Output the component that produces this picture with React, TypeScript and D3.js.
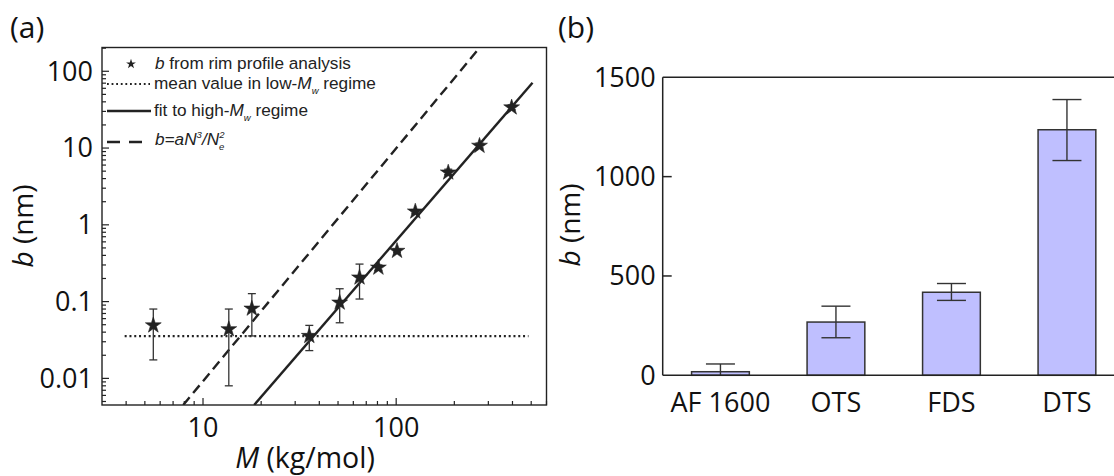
import React from 'react'
import * as d3 from 'd3'

// ---- panel (a): b vs M, log-log ----
const massM = [5.53, 13.6, 17.9, 35.5, 51, 64.6, 80.9, 101, 125.6, 186, 270, 396]
const rimB = [0.049, 0.0437, 0.081, 0.0357, 0.097, 0.206, 0.277, 0.458, 1.49, 4.8, 10.7, 33.8]
const rimLow = [0.0174, 0.008, 0.0357, 0.023, 0.053, 0.108, 0.255, 0.44, 1.42, 4.5, 10.0, 31.5]
const rimHigh = [0.08, 0.08, 0.127, 0.049, 0.147, 0.308, 0.3, 0.48, 1.58, 5.3, 11.6, 36.5]

const meanM = [3.93, 484]
const meanB = [0.0356, 0.0356]
const fitM = [18.4, 508]
const fitB = [0.0045, 70.8]
const theoryM = [7.9, 271]
const theoryB = [0.0045, 204]

const xMajor = [10, 100]
const yMajor = [0.01, 0.1, 1, 10, 100]
const yMajorLabels = ['0.01', '0.1', '1', '10', '100']

// ---- panel (b): bars ----
const surfaces = ['AF 1600', 'OTS', 'FDS', 'DTS']
const surfaceB = [18, 268, 418, 1236]
const surfaceLow = [-20, 189, 377, 1081]
const surfaceHigh = [57, 348, 462, 1388]
const barTicks = [0, 500, 1000, 1500]

const ink = '#222'
const sans = '"Open Sans", "Noto Sans", sans-serif'
const arial = '"Liberation Sans", Arial, sans-serif'

const isDecade = (t: number) => Math.abs(Math.log10(t) - Math.round(Math.log10(t))) < 1e-6

const App = () => {
  // panel (a) scales
  const x = d3.scaleLog().domain([3, 600]).range([102, 546.5])
  const y = d3.scaleLog().domain([0.0045, 204]).range([405, 47.5])
  const [x0, x1] = x.range()
  const [y0, y1] = y.range()

  const line = d3.line<[number, number]>().x(d => x(d[0])).y(d => y(d[1]))
  const pts = (ms: number[], bs: number[]) => ms.map((m, i) => [m, bs[i]] as [number, number])

  const star = d3.symbol().type(d3.symbolStar)
  const xMinor = x.ticks().filter(t => !isDecade(t) && t > 3)
  const yMinor = y.ticks().filter(t => !isDecade(t))

  // panel (b) scales
  const bx = d3.scaleBand().domain(surfaces).range([662.7, 1124.7]).paddingInner(0.5).paddingOuter(0.25)
  const by = d3.scaleLinear().domain([0, 1500]).range([375.3, 77.3])
  const [bLeft] = bx.range()

  return (
    <svg width={1114} height={476} style={{ position: 'absolute', left: 0, top: 0, background: '#fff' }}>
      <defs>
        <clipPath id="plotA">
          <rect x={x0} y={y1} width={x1 - x0} height={y0 - y1} />
        </clipPath>
      </defs>

      {/* ===== panel (a) ===== */}
      <text x={10} y={38} fontFamily={sans} fontSize={30} fill="#111">(a)</text>

      <g stroke={ink} strokeWidth={1.2}>
        {yMajor.map(t => <line key={'ym' + t} x1={x0} x2={x0 + 7} y1={y(t)} y2={y(t)} />)}
        {yMinor.map(t => <line key={'yn' + t} x1={x0} x2={x0 + 4} y1={y(t)} y2={y(t)} />)}
        {xMajor.map(t => <line key={'xm' + t} x1={x(t)} x2={x(t)} y1={y0} y2={y0 - 7} />)}
        {xMinor.map(t => <line key={'xn' + t} x1={x(t)} x2={x(t)} y1={y0} y2={y0 - 4} />)}
      </g>
      <rect x={x0} y={y1} width={x1 - x0} height={y0 - y1} fill="none" stroke={ink} strokeWidth={1.4} />

      {yMajor.map((t, i) => (
        <text key={'yl' + t} x={x0 - 9} y={y(t)} dy="0.35em" textAnchor="end" fontFamily={sans} fontSize={27} fill="#111">
          {yMajorLabels[i]}
        </text>
      ))}
      {xMajor.map(t => (
        <text key={'xl' + t} x={x(t)} y={437} textAnchor="middle" fontFamily={sans} fontSize={27} fill="#111">{t}</text>
      ))}
      <text x={305} y={468} textAnchor="middle" fontFamily={sans} fontSize={28.5} fill="#111">
        <tspan fontStyle="italic">M</tspan> (kg/mol)
      </text>
      <text transform="translate(33,226) rotate(-90)" textAnchor="middle" fontFamily={sans} fontSize={28} fill="#111">
        <tspan fontStyle="italic">b</tspan> (nm)
      </text>

      <g clipPath="url(#plotA)" fill="none" stroke={ink}>
        <path d={line(pts(meanM, meanB)) || ''} strokeWidth={2.2} strokeDasharray="2 2.8" />
        <path d={line(pts(theoryM, theoryB)) || ''} strokeWidth={2.4} strokeDasharray="10 5.5" />
        <path d={line(pts(fitM, fitB)) || ''} strokeWidth={2.4} />
      </g>

      <g stroke="#333" strokeWidth={1.3}>
        {massM.map((m, i) => (
          <g key={'e' + i}>
            <line x1={x(m)} x2={x(m)} y1={y(rimLow[i])} y2={y(rimHigh[i])} />
            <line x1={x(m) - 4} x2={x(m) + 4} y1={y(rimLow[i])} y2={y(rimLow[i])} />
            <line x1={x(m) - 4} x2={x(m) + 4} y1={y(rimHigh[i])} y2={y(rimHigh[i])} />
          </g>
        ))}
      </g>
      {massM.map((m, i) => (
        <path key={'s' + i} d={star.size(78)() || ''} transform={`translate(${x(m)},${y(rimB[i])})`}
          fill={ink} stroke={ink} strokeWidth={0.6} strokeLinejoin="round" />
      ))}

      {/* legend */}
      <g fontFamily={arial} fontSize={17.2} fill="#222">
        <path d={star.size(30)() || ''} transform="translate(131,64)" fill={ink} />
        <text x={155} y={69}><tspan fontStyle="italic">b</tspan> from rim profile analysis</text>

        <line x1={107} x2={150} y1={84} y2={84} stroke={ink} strokeWidth={1.8} strokeDasharray="1.8 2.8" />
        <text x={154} y={89}>
          mean value in low-<tspan fontStyle="italic">M</tspan>
          <tspan fontStyle="italic" fontSize={9.5} dy={5}>w</tspan>
          <tspan dy={-5}> regime</tspan>
        </text>

        <line x1={107} x2={151} y1={111} y2={111} stroke={ink} strokeWidth={2.4} />
        <text x={154} y={116}>
          fit to high-<tspan fontStyle="italic">M</tspan>
          <tspan fontStyle="italic" fontSize={9.5} dy={5}>w</tspan>
          <tspan dy={-5}> regime</tspan>
        </text>

        <line x1={107} x2={145} y1={142} y2={142} stroke={ink} strokeWidth={2.4} strokeDasharray="13 9" />
        <text x={155} y={145} fontStyle="italic">
          b=aN<tspan fontSize={9.5} dy={-7}>3</tspan>
          <tspan dy={7}>/N</tspan>
          <tspan fontSize={9.5} dy={5}>e</tspan>
          <tspan fontSize={9.5} dx={-5} dy={-12}>2</tspan>
        </text>
      </g>

      {/* ===== panel (b) ===== */}
      <text x={558} y={38} fontFamily={sans} fontSize={30} fill="#111">(b)</text>

      {surfaces.map((s, i) => (
        <rect key={'b' + s} x={bx(s)} y={by(surfaceB[i])} width={bx.bandwidth()} height={by(0) - by(surfaceB[i])}
          fill="#bfbfff" stroke="#333" strokeWidth={1.5} />
      ))}
      <g stroke="#333" strokeWidth={1.4}>
        {surfaces.map((s, i) => {
          const cx = (bx(s) || 0) + bx.bandwidth() / 2
          const lo = by(Math.max(0, surfaceLow[i]))
          return (
            <g key={'be' + s}>
              <line x1={cx} x2={cx} y1={lo} y2={by(surfaceHigh[i])} />
              <line x1={cx - 14.5} x2={cx + 14.5} y1={by(surfaceHigh[i])} y2={by(surfaceHigh[i])} />
              {surfaceLow[i] > 0 && <line x1={cx - 14.5} x2={cx + 14.5} y1={lo} y2={lo} />}
            </g>
          )
        })}
      </g>

      <g stroke={ink} strokeWidth={1.5}>
        <line x1={bLeft} x2={bLeft} y1={by(1500)} y2={by(0)} />
        <line x1={bLeft} x2={1114} y1={by(0)} y2={by(0)} />
        <line x1={bLeft} x2={1114} y1={by(1500)} y2={by(1500)} />
        {barTicks.slice(1, -1).map(t => <line key={'bt' + t} x1={bLeft} x2={bLeft + 9} y1={by(t)} y2={by(t)} />)}
      </g>
      {barTicks.map(t => (
        <text key={'btl' + t} x={bLeft - 7} y={by(t)} dy="0.35em" textAnchor="end" fontFamily={sans} fontSize={27} fill="#111">{t}</text>
      ))}
      {surfaces.map(s => (
        <text key={'bl' + s} x={(bx(s) || 0) + bx.bandwidth() / 2} y={412} textAnchor="middle" fontFamily={sans} fontSize={27} fill="#111">{s}</text>
      ))}
      <text transform="translate(580,225) rotate(-90)" textAnchor="middle" fontFamily={sans} fontSize={28} fill="#111">
        <tspan fontStyle="italic">b</tspan> (nm)
      </text>
    </svg>
  )
}

export default App
